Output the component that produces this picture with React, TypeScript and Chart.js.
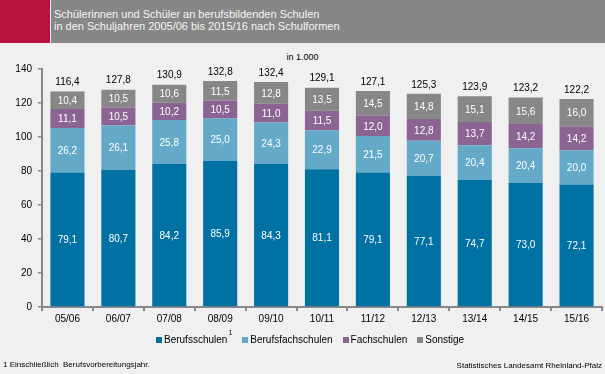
import React, { useEffect, useRef } from "react";
import { Chart, registerables } from "chart.js";

Chart.register(...registerables);

const categories = ["05/06", "06/07", "07/08", "08/09", "09/10", "10/11", "11/12", "12/13", "13/14", "14/15", "15/16"];
const berufsschulen = [79.1, 80.7, 84.2, 85.9, 84.3, 81.1, 79.1, 77.1, 74.7, 73.0, 72.1];
const berufsfachschulen = [26.2, 26.1, 25.8, 25.0, 24.3, 22.9, 21.5, 20.7, 20.4, 20.4, 20.0];
const fachschulen = [11.1, 10.5, 10.2, 10.5, 11.0, 11.5, 12.0, 12.8, 13.7, 14.2, 14.2];
const sonstige = [10.4, 10.5, 10.6, 11.5, 12.8, 13.5, 14.5, 14.8, 15.1, 15.6, 16.0];
const totalLabels = ["116,4", "127,8", "130,9", "132,8", "132,4", "129,1", "127,1", "125,3", "123,9", "123,2", "122,2"];
const seriesNames = ["Berufsschulen", "Berufsfachschulen", "Fachschulen", "Sonstige"];
const seriesColors = ["#0071a3", "#64aac8", "#8b6493", "#878787"];
const yTicks = [0, 20, 40, 60, 80, 100, 120, 140];

const FONT = "'Liberation Sans', Arial, sans-serif";
const fmt = (v: number) => v.toFixed(1).replace(".", ",");

const labelPlugin = {
  id: "segLabels",
  afterDatasetsDraw(chart: any) {
    const ctx = chart.ctx;
    ctx.save();
    ctx.font = `10px ${FONT}`;
    ctx.textAlign = "center";
    ctx.textBaseline = "middle";
    chart.data.datasets.forEach((ds: any, di: number) => {
      const meta = chart.getDatasetMeta(di);
      meta.data.forEach((el: any, i: number) => {
        const p = el.getProps(["x", "y", "base"], true);
        ctx.fillStyle = "#ffffff";
        ctx.fillText(fmt(ds.data[i]), p.x, (p.y + p.base) / 2 + 1);
      });
    });
    const last = chart.getDatasetMeta(chart.data.datasets.length - 1);
    ctx.fillStyle = "#000000";
    last.data.forEach((el: any, i: number) => {
      const p = el.getProps(["x", "y"], true);
      ctx.fillText(totalLabels[i], p.x, p.y - 9);
    });
    ctx.restore();
  },
};

export default function App() {
  const ref = useRef<HTMLCanvasElement | null>(null);

  useEffect(() => {
    document.body.style.margin = "0";
    const data = [berufsschulen, berufsfachschulen, fachschulen, sonstige];
    const chart = new Chart(ref.current as HTMLCanvasElement, {
      type: "bar",
      data: {
        labels: categories,
        datasets: seriesNames.map((name, i) => ({
          label: name,
          data: data[i],
          backgroundColor: seriesColors[i],
          borderWidth: 0,
          categoryPercentage: 1,
          barPercentage: 0.67,
        })),
      },
      options: {
        animation: false,
        responsive: false,
        layout: { padding: { top: 69, right: 3, bottom: 0, left: 0 } },
        plugins: { legend: { display: false }, tooltip: { enabled: false }, title: { display: false } },
        scales: {
          x: {
            stacked: true,
            grid: { display: true, drawOnChartArea: false, drawTicks: true, tickLength: 4, color: "#888888", lineWidth: 2, offset: true },
            border: { display: true, color: "#888888", width: 2 },
            ticks: { color: "#000000", font: { family: FONT, size: 10 }, padding: 2, maxRotation: 0 },
            afterFit: (s: any) => { s.height = 67; },
          },
          y: {
            stacked: true,
            min: 0,
            max: 140,
            afterBuildTicks: (s: any) => { s.ticks = yTicks.map((v) => ({ value: v })); },
            grid: { display: true, drawOnChartArea: false, drawTicks: true, tickLength: 4, color: "#888888", lineWidth: 1.5 },
            border: { display: true, color: "#888888", width: 2 },
            ticks: { color: "#000000", font: { family: FONT, size: 10 }, padding: 6 },
            afterFit: (s: any) => { s.width = 42; },
          },
        },
      },
      plugins: [labelPlugin],
    });
    return () => chart.destroy();
  }, []);

  const txt: React.CSSProperties = { position: "absolute", fontFamily: FONT, whiteSpace: "nowrap" };

  return (
    <div style={{ position: "relative", width: 605, height: 374, background: "#eff0ef", overflow: "hidden" }}>
      <div style={{ position: "absolute", left: 0, top: 0, width: 50, height: 43, background: "#b5123e" }} />
      <div style={{ position: "absolute", left: 51, top: 0, width: 554, height: 43, background: "#878787" }} />
      <div style={{ ...txt, left: 54, top: 8, fontSize: 11, lineHeight: "12px", color: "#f5f5f5" }}>
        Schülerinnen und Schüler an berufsbildenden Schulen
        <br />
        in den Schuljahren 2005/06 bis 2015/16 nach Schulformen
      </div>
      <div style={{ ...txt, left: 0, width: 605, top: 52, textAlign: "center", fontSize: 9, color: "#000" }}>in 1.000</div>
      <canvas ref={ref} width={605} height={374} style={{ position: "absolute", left: 0, top: 0, width: 605, height: 374 }} />
      <div style={{ ...txt, left: 156, top: 334, fontSize: 10, color: "#000", display: "flex", alignItems: "center" }}>
        {seriesNames.map((n, i) => (
          <span key={n} style={{ display: "inline-flex", alignItems: "center", marginRight: 10, position: "relative" }}>
            <span style={{ width: 6, height: 6, background: seriesColors[i], display: "inline-block", marginRight: 2 }} />
            <span>{n}</span>
            {i === 0 ? <span style={{ fontSize: 7, position: "relative", top: -7, marginLeft: 1 }}>1</span> : null}
          </span>
        ))}
      </div>
      <div style={{ ...txt, left: 3, top: 360, fontSize: 8, color: "#000" }}>1 Einschließlich&nbsp;&nbsp;Berufsvorbereitungsjahr.</div>
      <div style={{ ...txt, right: 3, top: 361, fontSize: 8, color: "#000" }}>Statistisches Landesamt Rheinland-Pfalz</div>
    </div>
  );
}
